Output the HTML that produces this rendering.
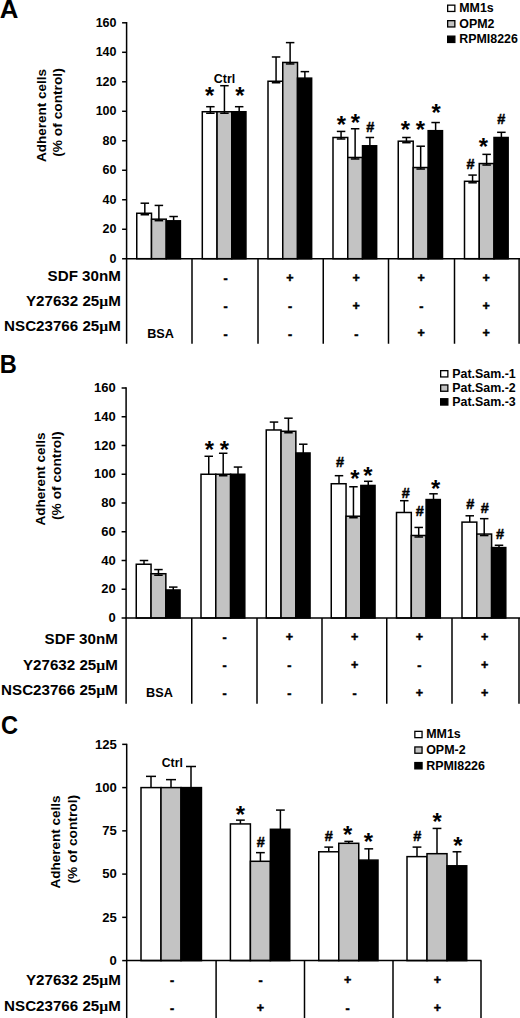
<!DOCTYPE html>
<html><head><meta charset="utf-8"><title>Figure</title>
<style>
html,body{margin:0;padding:0;background:#fff;}
svg{display:block;font-family:"Liberation Sans",sans-serif;font-weight:bold;fill:#000;}
</style></head>
<body>
<svg width="520" height="1018" viewBox="0 0 520 1018">
<rect x="0" y="0" width="520" height="1018" fill="#fff"/>
<line x1="126.60" y1="22.10" x2="126.60" y2="343.75" stroke="#000" stroke-width="1.5"/>
<line x1="122.10" y1="258.75" x2="126.60" y2="258.75" stroke="#000" stroke-width="1.5"/>
<text x="116.50" y="262.65" font-size="12.5" text-anchor="end" >0</text>
<line x1="122.10" y1="229.26" x2="126.60" y2="229.26" stroke="#000" stroke-width="1.5"/>
<text x="116.50" y="233.16" font-size="12.5" text-anchor="end" >20</text>
<line x1="122.10" y1="199.76" x2="126.60" y2="199.76" stroke="#000" stroke-width="1.5"/>
<text x="116.50" y="203.66" font-size="12.5" text-anchor="end" >40</text>
<line x1="122.10" y1="170.27" x2="126.60" y2="170.27" stroke="#000" stroke-width="1.5"/>
<text x="116.50" y="174.17" font-size="12.5" text-anchor="end" >60</text>
<line x1="122.10" y1="140.77" x2="126.60" y2="140.77" stroke="#000" stroke-width="1.5"/>
<text x="116.50" y="144.67" font-size="12.5" text-anchor="end" >80</text>
<line x1="122.10" y1="111.28" x2="126.60" y2="111.28" stroke="#000" stroke-width="1.5"/>
<text x="116.50" y="115.18" font-size="12.5" text-anchor="end" >100</text>
<line x1="122.10" y1="81.79" x2="126.60" y2="81.79" stroke="#000" stroke-width="1.5"/>
<text x="116.50" y="85.69" font-size="12.5" text-anchor="end" >120</text>
<line x1="122.10" y1="52.29" x2="126.60" y2="52.29" stroke="#000" stroke-width="1.5"/>
<text x="116.50" y="56.19" font-size="12.5" text-anchor="end" >140</text>
<line x1="122.10" y1="22.80" x2="126.60" y2="22.80" stroke="#000" stroke-width="1.5"/>
<text x="116.50" y="26.70" font-size="12.5" text-anchor="end" >160</text>
<rect x="136.75" y="213.26" width="14.75" height="45.44" fill="#fff" stroke="#000" stroke-width="1.5"/>
<rect x="151.50" y="219.18" width="14.75" height="39.52" fill="#c3c3c3" stroke="#000" stroke-width="1.5"/>
<rect x="166.25" y="220.81" width="14.15" height="37.89" fill="#000" stroke="#000" stroke-width="1.5"/>
<line x1="144.82" y1="203.20" x2="144.82" y2="214.76" stroke="#000" stroke-width="1.5"/>
<line x1="140.57" y1="203.20" x2="149.07" y2="203.20" stroke="#000" stroke-width="1.5"/>
<line x1="140.57" y1="214.76" x2="149.07" y2="214.76" stroke="#000" stroke-width="1.5"/>
<line x1="158.88" y1="205.42" x2="158.88" y2="220.68" stroke="#000" stroke-width="1.5"/>
<line x1="154.62" y1="205.42" x2="163.12" y2="205.42" stroke="#000" stroke-width="1.5"/>
<line x1="154.62" y1="220.68" x2="163.12" y2="220.68" stroke="#000" stroke-width="1.5"/>
<line x1="173.62" y1="216.52" x2="173.62" y2="220.81" stroke="#000" stroke-width="1.5"/>
<line x1="169.38" y1="216.52" x2="177.88" y2="216.52" stroke="#000" stroke-width="1.5"/>
<rect x="202.30" y="111.74" width="14.75" height="146.96" fill="#fff" stroke="#000" stroke-width="1.5"/>
<rect x="217.05" y="111.74" width="14.75" height="146.96" fill="#c3c3c3" stroke="#000" stroke-width="1.5"/>
<rect x="231.80" y="111.74" width="14.15" height="146.96" fill="#000" stroke="#000" stroke-width="1.5"/>
<line x1="210.38" y1="106.70" x2="210.38" y2="113.24" stroke="#000" stroke-width="1.5"/>
<line x1="206.12" y1="106.70" x2="214.62" y2="106.70" stroke="#000" stroke-width="1.5"/>
<line x1="206.12" y1="113.24" x2="214.62" y2="113.24" stroke="#000" stroke-width="1.5"/>
<line x1="224.43" y1="85.69" x2="224.43" y2="113.24" stroke="#000" stroke-width="1.5"/>
<line x1="220.18" y1="85.69" x2="228.68" y2="85.69" stroke="#000" stroke-width="1.5"/>
<line x1="220.18" y1="113.24" x2="228.68" y2="113.24" stroke="#000" stroke-width="1.5"/>
<line x1="239.18" y1="106.70" x2="239.18" y2="111.74" stroke="#000" stroke-width="1.5"/>
<line x1="234.93" y1="106.70" x2="243.43" y2="106.70" stroke="#000" stroke-width="1.5"/>
<rect x="268.00" y="81.25" width="14.75" height="177.45" fill="#fff" stroke="#000" stroke-width="1.5"/>
<rect x="282.75" y="62.45" width="14.75" height="196.25" fill="#c3c3c3" stroke="#000" stroke-width="1.5"/>
<rect x="297.50" y="78.14" width="14.15" height="180.56" fill="#000" stroke="#000" stroke-width="1.5"/>
<line x1="276.07" y1="56.98" x2="276.07" y2="82.75" stroke="#000" stroke-width="1.5"/>
<line x1="271.82" y1="56.98" x2="280.32" y2="56.98" stroke="#000" stroke-width="1.5"/>
<line x1="271.82" y1="82.75" x2="280.32" y2="82.75" stroke="#000" stroke-width="1.5"/>
<line x1="290.12" y1="42.62" x2="290.12" y2="63.95" stroke="#000" stroke-width="1.5"/>
<line x1="285.88" y1="42.62" x2="294.38" y2="42.62" stroke="#000" stroke-width="1.5"/>
<line x1="285.88" y1="63.95" x2="294.38" y2="63.95" stroke="#000" stroke-width="1.5"/>
<line x1="304.88" y1="71.63" x2="304.88" y2="78.14" stroke="#000" stroke-width="1.5"/>
<line x1="300.62" y1="71.63" x2="309.12" y2="71.63" stroke="#000" stroke-width="1.5"/>
<rect x="333.00" y="137.49" width="14.75" height="121.21" fill="#fff" stroke="#000" stroke-width="1.5"/>
<rect x="347.75" y="157.47" width="14.75" height="101.23" fill="#c3c3c3" stroke="#000" stroke-width="1.5"/>
<rect x="362.50" y="145.78" width="14.15" height="112.92" fill="#000" stroke="#000" stroke-width="1.5"/>
<line x1="341.07" y1="131.42" x2="341.07" y2="138.99" stroke="#000" stroke-width="1.5"/>
<line x1="336.82" y1="131.42" x2="345.32" y2="131.42" stroke="#000" stroke-width="1.5"/>
<line x1="336.82" y1="138.99" x2="345.32" y2="138.99" stroke="#000" stroke-width="1.5"/>
<line x1="355.12" y1="128.76" x2="355.12" y2="158.97" stroke="#000" stroke-width="1.5"/>
<line x1="350.88" y1="128.76" x2="359.38" y2="128.76" stroke="#000" stroke-width="1.5"/>
<line x1="350.88" y1="158.97" x2="359.38" y2="158.97" stroke="#000" stroke-width="1.5"/>
<line x1="369.88" y1="137.49" x2="369.88" y2="145.78" stroke="#000" stroke-width="1.5"/>
<line x1="365.62" y1="137.49" x2="374.12" y2="137.49" stroke="#000" stroke-width="1.5"/>
<rect x="398.25" y="141.19" width="14.95" height="117.51" fill="#fff" stroke="#000" stroke-width="1.5"/>
<rect x="413.20" y="167.53" width="14.95" height="91.17" fill="#c3c3c3" stroke="#000" stroke-width="1.5"/>
<rect x="428.15" y="130.68" width="14.35" height="128.02" fill="#000" stroke="#000" stroke-width="1.5"/>
<line x1="406.43" y1="137.49" x2="406.43" y2="142.69" stroke="#000" stroke-width="1.5"/>
<line x1="402.18" y1="137.49" x2="410.68" y2="137.49" stroke="#000" stroke-width="1.5"/>
<line x1="402.18" y1="142.69" x2="410.68" y2="142.69" stroke="#000" stroke-width="1.5"/>
<line x1="420.67" y1="146.22" x2="420.67" y2="169.03" stroke="#000" stroke-width="1.5"/>
<line x1="416.42" y1="146.22" x2="424.92" y2="146.22" stroke="#000" stroke-width="1.5"/>
<line x1="416.42" y1="169.03" x2="424.92" y2="169.03" stroke="#000" stroke-width="1.5"/>
<line x1="435.62" y1="122.54" x2="435.62" y2="130.68" stroke="#000" stroke-width="1.5"/>
<line x1="431.38" y1="122.54" x2="439.88" y2="122.54" stroke="#000" stroke-width="1.5"/>
<rect x="464.50" y="181.30" width="14.75" height="77.40" fill="#fff" stroke="#000" stroke-width="1.5"/>
<rect x="479.25" y="163.54" width="14.75" height="95.16" fill="#c3c3c3" stroke="#000" stroke-width="1.5"/>
<rect x="494.00" y="137.49" width="14.15" height="121.21" fill="#000" stroke="#000" stroke-width="1.5"/>
<line x1="472.57" y1="175.08" x2="472.57" y2="182.80" stroke="#000" stroke-width="1.5"/>
<line x1="468.32" y1="175.08" x2="476.82" y2="175.08" stroke="#000" stroke-width="1.5"/>
<line x1="468.32" y1="182.80" x2="476.82" y2="182.80" stroke="#000" stroke-width="1.5"/>
<line x1="486.62" y1="154.36" x2="486.62" y2="165.04" stroke="#000" stroke-width="1.5"/>
<line x1="482.38" y1="154.36" x2="490.88" y2="154.36" stroke="#000" stroke-width="1.5"/>
<line x1="482.38" y1="165.04" x2="490.88" y2="165.04" stroke="#000" stroke-width="1.5"/>
<line x1="501.38" y1="132.31" x2="501.38" y2="137.49" stroke="#000" stroke-width="1.5"/>
<line x1="497.12" y1="132.31" x2="505.62" y2="132.31" stroke="#000" stroke-width="1.5"/>
<line x1="125.90" y1="258.70" x2="520.00" y2="258.70" stroke="#000" stroke-width="1.5"/>
<line x1="192.00" y1="258.70" x2="192.00" y2="343.75" stroke="#000" stroke-width="1.5"/>
<line x1="258.00" y1="258.70" x2="258.00" y2="343.75" stroke="#000" stroke-width="1.5"/>
<line x1="323.25" y1="258.70" x2="323.25" y2="343.75" stroke="#000" stroke-width="1.5"/>
<line x1="388.50" y1="258.70" x2="388.50" y2="343.75" stroke="#000" stroke-width="1.5"/>
<line x1="454.50" y1="258.70" x2="454.50" y2="343.75" stroke="#000" stroke-width="1.5"/>
<line x1="519.10" y1="258.70" x2="519.10" y2="343.75" stroke="#000" stroke-width="1.5"/>
<text transform="translate(45.6,115.4) rotate(-90)" font-size="13.6" text-anchor="middle" textLength="93" lengthAdjust="spacingAndGlyphs">Adherent cells</text>
<text transform="translate(61.8,112.5) rotate(-90)" font-size="13.6" text-anchor="middle" textLength="88.5" lengthAdjust="spacingAndGlyphs">(% of control)</text>
<text x="-0.20" y="18.00" font-size="25.8" text-anchor="start" >A</text>
<rect x="447.65" y="5.15" width="7.2" height="6.3" fill="#fff" stroke="#000" stroke-width="1.3"/>
<text x="459.30" y="12.20" font-size="12.4" text-anchor="start" >MM1s</text>
<rect x="447.65" y="20.65" width="7.2" height="6.3" fill="#c3c3c3" stroke="#000" stroke-width="1.3"/>
<text x="459.30" y="27.70" font-size="12.4" text-anchor="start" >OPM2</text>
<rect x="447.65" y="36.15" width="7.2" height="6.3" fill="#000" stroke="#000" stroke-width="1.3"/>
<text x="459.30" y="43.20" font-size="12.4" text-anchor="start" >RPMI8226</text>
<text x="224.50" y="82.50" font-size="12.4" text-anchor="middle" >Ctrl</text>
<text x="209.60" y="104.30" font-size="23.8" text-anchor="middle" >*</text>
<text x="240.00" y="104.30" font-size="23.8" text-anchor="middle" >*</text>
<text x="341.50" y="133.40" font-size="23.8" text-anchor="middle" >*</text>
<text x="355.40" y="131.40" font-size="23.8" text-anchor="middle" >*</text>
<text x="370.40" y="131.54" font-size="14.5" text-anchor="middle" stroke="#000" stroke-width="0.45">#</text>
<text x="405.40" y="137.70" font-size="23.8" text-anchor="middle" >*</text>
<text x="420.40" y="138.30" font-size="23.8" text-anchor="middle" >*</text>
<text x="436.20" y="120.80" font-size="23.8" text-anchor="middle" >*</text>
<text x="470.50" y="169.44" font-size="14.5" text-anchor="middle" stroke="#000" stroke-width="0.45">#</text>
<text x="483.50" y="155.40" font-size="23.8" text-anchor="middle" >*</text>
<text x="501.20" y="124.24" font-size="14.5" text-anchor="middle" stroke="#000" stroke-width="0.45">#</text>
<text x="120.80" y="280.60" font-size="15.15" text-anchor="end" >SDF 30nM</text>
<text x="120.80" y="305.60" font-size="15.15" text-anchor="end" >Y27632 25<tspan font-family="Liberation Serif" font-weight="bold" font-size="15.5">µ</tspan>M</text>
<text x="120.80" y="331.30" font-size="15.15" text-anchor="end" >NSC23766 25<tspan font-family="Liberation Serif" font-weight="bold" font-size="15.5">µ</tspan>M</text>
<text x="160.60" y="338.30" font-size="12.7" text-anchor="middle" >BSA</text>
<text x="225.60" y="283.20" font-size="12.5" text-anchor="middle" stroke="#000" stroke-width="0.5">-</text>
<text x="225.60" y="311.40" font-size="12.5" text-anchor="middle" stroke="#000" stroke-width="0.5">-</text>
<text x="225.60" y="339.00" font-size="12.5" text-anchor="middle" stroke="#000" stroke-width="0.5">-</text>
<text x="290.00" y="281.80" font-size="12.5" text-anchor="middle" stroke="#000" stroke-width="0.5">+</text>
<text x="290.00" y="311.40" font-size="12.5" text-anchor="middle" stroke="#000" stroke-width="0.5">-</text>
<text x="290.00" y="339.00" font-size="12.5" text-anchor="middle" stroke="#000" stroke-width="0.5">-</text>
<text x="356.25" y="281.80" font-size="12.5" text-anchor="middle" stroke="#000" stroke-width="0.5">+</text>
<text x="356.25" y="309.70" font-size="12.5" text-anchor="middle" stroke="#000" stroke-width="0.5">+</text>
<text x="356.25" y="339.00" font-size="12.5" text-anchor="middle" stroke="#000" stroke-width="0.5">-</text>
<text x="421.25" y="281.80" font-size="12.5" text-anchor="middle" stroke="#000" stroke-width="0.5">+</text>
<text x="421.25" y="311.40" font-size="12.5" text-anchor="middle" stroke="#000" stroke-width="0.5">-</text>
<text x="421.25" y="337.40" font-size="12.5" text-anchor="middle" stroke="#000" stroke-width="0.5">+</text>
<text x="486.25" y="281.80" font-size="12.5" text-anchor="middle" stroke="#000" stroke-width="0.5">+</text>
<text x="486.25" y="309.70" font-size="12.5" text-anchor="middle" stroke="#000" stroke-width="0.5">+</text>
<text x="486.25" y="337.40" font-size="12.5" text-anchor="middle" stroke="#000" stroke-width="0.5">+</text>
<line x1="126.10" y1="387.30" x2="126.10" y2="703.75" stroke="#000" stroke-width="1.5"/>
<line x1="121.60" y1="618.00" x2="126.10" y2="618.00" stroke="#000" stroke-width="1.5"/>
<text x="115.70" y="622.20" font-size="13" text-anchor="end" >0</text>
<line x1="121.60" y1="589.25" x2="126.10" y2="589.25" stroke="#000" stroke-width="1.5"/>
<text x="115.70" y="593.45" font-size="13" text-anchor="end" >20</text>
<line x1="121.60" y1="560.50" x2="126.10" y2="560.50" stroke="#000" stroke-width="1.5"/>
<text x="115.70" y="564.70" font-size="13" text-anchor="end" >40</text>
<line x1="121.60" y1="531.75" x2="126.10" y2="531.75" stroke="#000" stroke-width="1.5"/>
<text x="115.70" y="535.95" font-size="13" text-anchor="end" >60</text>
<line x1="121.60" y1="503.00" x2="126.10" y2="503.00" stroke="#000" stroke-width="1.5"/>
<text x="115.70" y="507.20" font-size="13" text-anchor="end" >80</text>
<line x1="121.60" y1="474.25" x2="126.10" y2="474.25" stroke="#000" stroke-width="1.5"/>
<text x="115.70" y="478.45" font-size="13" text-anchor="end" >100</text>
<line x1="121.60" y1="445.50" x2="126.10" y2="445.50" stroke="#000" stroke-width="1.5"/>
<text x="115.70" y="449.70" font-size="13" text-anchor="end" >120</text>
<line x1="121.60" y1="416.75" x2="126.10" y2="416.75" stroke="#000" stroke-width="1.5"/>
<text x="115.70" y="420.95" font-size="13" text-anchor="end" >140</text>
<line x1="121.60" y1="388.00" x2="126.10" y2="388.00" stroke="#000" stroke-width="1.5"/>
<text x="115.70" y="392.20" font-size="13" text-anchor="end" >160</text>
<rect x="136.25" y="564.24" width="14.80" height="53.76" fill="#fff" stroke="#000" stroke-width="1.5"/>
<rect x="151.05" y="573.73" width="14.80" height="44.27" fill="#c3c3c3" stroke="#000" stroke-width="1.5"/>
<rect x="165.85" y="589.97" width="14.20" height="28.03" fill="#000" stroke="#000" stroke-width="1.5"/>
<line x1="144.00" y1="560.50" x2="144.00" y2="564.24" stroke="#000" stroke-width="1.5"/>
<line x1="139.75" y1="560.50" x2="148.25" y2="560.50" stroke="#000" stroke-width="1.5"/>
<line x1="158.45" y1="569.56" x2="158.45" y2="575.23" stroke="#000" stroke-width="1.5"/>
<line x1="154.20" y1="569.56" x2="162.70" y2="569.56" stroke="#000" stroke-width="1.5"/>
<line x1="154.20" y1="575.23" x2="162.70" y2="575.23" stroke="#000" stroke-width="1.5"/>
<line x1="173.25" y1="587.09" x2="173.25" y2="589.97" stroke="#000" stroke-width="1.5"/>
<line x1="169.00" y1="587.09" x2="177.50" y2="587.09" stroke="#000" stroke-width="1.5"/>
<rect x="201.00" y="474.25" width="14.80" height="143.75" fill="#fff" stroke="#000" stroke-width="1.5"/>
<rect x="215.80" y="474.25" width="14.80" height="143.75" fill="#c3c3c3" stroke="#000" stroke-width="1.5"/>
<rect x="230.60" y="474.25" width="14.20" height="143.75" fill="#000" stroke="#000" stroke-width="1.5"/>
<line x1="208.75" y1="456.28" x2="208.75" y2="474.25" stroke="#000" stroke-width="1.5"/>
<line x1="204.50" y1="456.28" x2="213.00" y2="456.28" stroke="#000" stroke-width="1.5"/>
<line x1="223.20" y1="453.26" x2="223.20" y2="475.75" stroke="#000" stroke-width="1.5"/>
<line x1="218.95" y1="453.26" x2="227.45" y2="453.26" stroke="#000" stroke-width="1.5"/>
<line x1="218.95" y1="475.75" x2="227.45" y2="475.75" stroke="#000" stroke-width="1.5"/>
<line x1="238.00" y1="467.06" x2="238.00" y2="474.25" stroke="#000" stroke-width="1.5"/>
<line x1="233.75" y1="467.06" x2="242.25" y2="467.06" stroke="#000" stroke-width="1.5"/>
<rect x="266.25" y="429.98" width="14.80" height="188.02" fill="#fff" stroke="#000" stroke-width="1.5"/>
<rect x="281.05" y="431.27" width="14.80" height="186.73" fill="#c3c3c3" stroke="#000" stroke-width="1.5"/>
<rect x="295.85" y="452.98" width="14.20" height="165.02" fill="#000" stroke="#000" stroke-width="1.5"/>
<line x1="274.00" y1="422.07" x2="274.00" y2="429.98" stroke="#000" stroke-width="1.5"/>
<line x1="269.75" y1="422.07" x2="278.25" y2="422.07" stroke="#000" stroke-width="1.5"/>
<line x1="288.45" y1="418.19" x2="288.45" y2="432.77" stroke="#000" stroke-width="1.5"/>
<line x1="284.20" y1="418.19" x2="292.70" y2="418.19" stroke="#000" stroke-width="1.5"/>
<line x1="284.20" y1="432.77" x2="292.70" y2="432.77" stroke="#000" stroke-width="1.5"/>
<line x1="303.25" y1="444.21" x2="303.25" y2="452.98" stroke="#000" stroke-width="1.5"/>
<line x1="299.00" y1="444.21" x2="307.50" y2="444.21" stroke="#000" stroke-width="1.5"/>
<rect x="331.25" y="483.74" width="14.80" height="134.26" fill="#fff" stroke="#000" stroke-width="1.5"/>
<rect x="346.05" y="516.23" width="14.80" height="101.77" fill="#c3c3c3" stroke="#000" stroke-width="1.5"/>
<rect x="360.85" y="485.46" width="14.20" height="132.54" fill="#000" stroke="#000" stroke-width="1.5"/>
<line x1="339.00" y1="475.69" x2="339.00" y2="483.74" stroke="#000" stroke-width="1.5"/>
<line x1="334.75" y1="475.69" x2="343.25" y2="475.69" stroke="#000" stroke-width="1.5"/>
<line x1="353.45" y1="486.76" x2="353.45" y2="517.73" stroke="#000" stroke-width="1.5"/>
<line x1="349.20" y1="486.76" x2="357.70" y2="486.76" stroke="#000" stroke-width="1.5"/>
<line x1="349.20" y1="517.73" x2="357.70" y2="517.73" stroke="#000" stroke-width="1.5"/>
<line x1="368.25" y1="481.29" x2="368.25" y2="485.46" stroke="#000" stroke-width="1.5"/>
<line x1="364.00" y1="481.29" x2="372.50" y2="481.29" stroke="#000" stroke-width="1.5"/>
<rect x="396.50" y="512.49" width="14.80" height="105.51" fill="#fff" stroke="#000" stroke-width="1.5"/>
<rect x="411.30" y="535.49" width="14.80" height="82.51" fill="#c3c3c3" stroke="#000" stroke-width="1.5"/>
<rect x="426.10" y="499.55" width="14.20" height="118.45" fill="#000" stroke="#000" stroke-width="1.5"/>
<line x1="404.25" y1="500.70" x2="404.25" y2="512.49" stroke="#000" stroke-width="1.5"/>
<line x1="400.00" y1="500.70" x2="408.50" y2="500.70" stroke="#000" stroke-width="1.5"/>
<line x1="418.70" y1="527.44" x2="418.70" y2="536.99" stroke="#000" stroke-width="1.5"/>
<line x1="414.45" y1="527.44" x2="422.95" y2="527.44" stroke="#000" stroke-width="1.5"/>
<line x1="414.45" y1="536.99" x2="422.95" y2="536.99" stroke="#000" stroke-width="1.5"/>
<line x1="433.50" y1="493.80" x2="433.50" y2="499.55" stroke="#000" stroke-width="1.5"/>
<line x1="429.25" y1="493.80" x2="437.75" y2="493.80" stroke="#000" stroke-width="1.5"/>
<rect x="462.00" y="522.12" width="14.80" height="95.88" fill="#fff" stroke="#000" stroke-width="1.5"/>
<rect x="476.80" y="534.05" width="14.80" height="83.95" fill="#c3c3c3" stroke="#000" stroke-width="1.5"/>
<rect x="491.60" y="547.56" width="14.20" height="70.44" fill="#000" stroke="#000" stroke-width="1.5"/>
<line x1="469.75" y1="515.79" x2="469.75" y2="522.12" stroke="#000" stroke-width="1.5"/>
<line x1="465.50" y1="515.79" x2="474.00" y2="515.79" stroke="#000" stroke-width="1.5"/>
<line x1="484.20" y1="518.67" x2="484.20" y2="535.55" stroke="#000" stroke-width="1.5"/>
<line x1="479.95" y1="518.67" x2="488.45" y2="518.67" stroke="#000" stroke-width="1.5"/>
<line x1="479.95" y1="535.55" x2="488.45" y2="535.55" stroke="#000" stroke-width="1.5"/>
<line x1="499.00" y1="545.26" x2="499.00" y2="547.56" stroke="#000" stroke-width="1.5"/>
<line x1="494.75" y1="545.26" x2="503.25" y2="545.26" stroke="#000" stroke-width="1.5"/>
<line x1="125.40" y1="618.00" x2="520.00" y2="618.00" stroke="#000" stroke-width="1.5"/>
<line x1="191.75" y1="618.00" x2="191.75" y2="703.75" stroke="#000" stroke-width="1.5"/>
<line x1="257.00" y1="618.00" x2="257.00" y2="703.75" stroke="#000" stroke-width="1.5"/>
<line x1="322.00" y1="618.00" x2="322.00" y2="703.75" stroke="#000" stroke-width="1.5"/>
<line x1="386.75" y1="618.00" x2="386.75" y2="703.75" stroke="#000" stroke-width="1.5"/>
<line x1="452.00" y1="618.00" x2="452.00" y2="703.75" stroke="#000" stroke-width="1.5"/>
<line x1="519.00" y1="618.00" x2="519.00" y2="703.75" stroke="#000" stroke-width="1.5"/>
<text transform="translate(44.8,479) rotate(-90)" font-size="13.6" text-anchor="middle" textLength="93" lengthAdjust="spacingAndGlyphs">Adherent cells</text>
<text transform="translate(61.2,475.7) rotate(-90)" font-size="13.6" text-anchor="middle" textLength="88.5" lengthAdjust="spacingAndGlyphs">(% of control)</text>
<text transform="translate(-0.3,373.2) scale(0.945,1.03)" font-size="25">B</text>
<rect x="440.65" y="370.65" width="7.2" height="6.3" fill="#fff" stroke="#000" stroke-width="1.3"/>
<text x="452.30" y="377.70" font-size="12.4" text-anchor="start" >Pat.Sam.-1</text>
<rect x="440.65" y="384.95" width="7.2" height="6.3" fill="#c3c3c3" stroke="#000" stroke-width="1.3"/>
<text x="452.30" y="392.00" font-size="12.4" text-anchor="start" >Pat.Sam.-2</text>
<rect x="440.65" y="398.75" width="7.2" height="6.3" fill="#000" stroke="#000" stroke-width="1.3"/>
<text x="452.30" y="405.80" font-size="12.4" text-anchor="start" >Pat.Sam.-3</text>
<text x="209.40" y="458.30" font-size="23.8" text-anchor="middle" >*</text>
<text x="224.40" y="458.30" font-size="23.8" text-anchor="middle" >*</text>
<text x="340.00" y="467.34" font-size="14.5" text-anchor="middle" stroke="#000" stroke-width="0.45">#</text>
<text x="354.80" y="487.10" font-size="23.8" text-anchor="middle" >*</text>
<text x="367.80" y="483.60" font-size="23.8" text-anchor="middle" >*</text>
<text x="405.70" y="497.94" font-size="14.5" text-anchor="middle" stroke="#000" stroke-width="0.45">#</text>
<text x="419.80" y="516.44" font-size="14.5" text-anchor="middle" stroke="#000" stroke-width="0.45">#</text>
<text x="435.60" y="496.50" font-size="23.8" text-anchor="middle" >*</text>
<text x="470.30" y="508.74" font-size="14.5" text-anchor="middle" stroke="#000" stroke-width="0.45">#</text>
<text x="484.90" y="513.24" font-size="14.5" text-anchor="middle" stroke="#000" stroke-width="0.45">#</text>
<text x="500.10" y="538.54" font-size="14.5" text-anchor="middle" stroke="#000" stroke-width="0.45">#</text>
<text x="117.80" y="643.70" font-size="15.15" text-anchor="end" >SDF 30nM</text>
<text x="117.80" y="670.00" font-size="15.15" text-anchor="end" >Y27632 25<tspan font-family="Liberation Serif" font-weight="bold" font-size="15.5">µ</tspan>M</text>
<text x="117.80" y="695.00" font-size="15.15" text-anchor="end" >NSC23766 25<tspan font-family="Liberation Serif" font-weight="bold" font-size="15.5">µ</tspan>M</text>
<text x="159.50" y="697.40" font-size="12.7" text-anchor="middle" >BSA</text>
<text x="224.60" y="642.00" font-size="12.5" text-anchor="middle" stroke="#000" stroke-width="0.5">-</text>
<text x="224.60" y="670.10" font-size="12.5" text-anchor="middle" stroke="#000" stroke-width="0.5">-</text>
<text x="224.60" y="697.80" font-size="12.5" text-anchor="middle" stroke="#000" stroke-width="0.5">-</text>
<text x="289.30" y="641.30" font-size="12.5" text-anchor="middle" stroke="#000" stroke-width="0.5">+</text>
<text x="289.30" y="670.10" font-size="12.5" text-anchor="middle" stroke="#000" stroke-width="0.5">-</text>
<text x="289.30" y="697.80" font-size="12.5" text-anchor="middle" stroke="#000" stroke-width="0.5">-</text>
<text x="354.60" y="641.30" font-size="12.5" text-anchor="middle" stroke="#000" stroke-width="0.5">+</text>
<text x="354.60" y="669.20" font-size="12.5" text-anchor="middle" stroke="#000" stroke-width="0.5">+</text>
<text x="354.60" y="697.80" font-size="12.5" text-anchor="middle" stroke="#000" stroke-width="0.5">-</text>
<text x="419.40" y="641.30" font-size="12.5" text-anchor="middle" stroke="#000" stroke-width="0.5">+</text>
<text x="419.40" y="670.10" font-size="12.5" text-anchor="middle" stroke="#000" stroke-width="0.5">-</text>
<text x="419.40" y="697.20" font-size="12.5" text-anchor="middle" stroke="#000" stroke-width="0.5">+</text>
<text x="484.60" y="641.30" font-size="12.5" text-anchor="middle" stroke="#000" stroke-width="0.5">+</text>
<text x="484.60" y="669.20" font-size="12.5" text-anchor="middle" stroke="#000" stroke-width="0.5">+</text>
<text x="484.60" y="697.20" font-size="12.5" text-anchor="middle" stroke="#000" stroke-width="0.5">+</text>
<line x1="126.70" y1="743.65" x2="126.70" y2="1019.00" stroke="#000" stroke-width="1.5"/>
<line x1="122.20" y1="960.60" x2="126.70" y2="960.60" stroke="#000" stroke-width="1.5"/>
<text x="116.90" y="964.90" font-size="13.1" text-anchor="end" >0</text>
<line x1="122.20" y1="917.35" x2="126.70" y2="917.35" stroke="#000" stroke-width="1.5"/>
<text x="116.90" y="921.65" font-size="13.1" text-anchor="end" >25</text>
<line x1="122.20" y1="874.10" x2="126.70" y2="874.10" stroke="#000" stroke-width="1.5"/>
<text x="116.90" y="878.40" font-size="13.1" text-anchor="end" >50</text>
<line x1="122.20" y1="830.85" x2="126.70" y2="830.85" stroke="#000" stroke-width="1.5"/>
<text x="116.90" y="835.15" font-size="13.1" text-anchor="end" >75</text>
<line x1="122.20" y1="787.60" x2="126.70" y2="787.60" stroke="#000" stroke-width="1.5"/>
<text x="116.90" y="791.90" font-size="13.1" text-anchor="end" >100</text>
<line x1="122.20" y1="744.35" x2="126.70" y2="744.35" stroke="#000" stroke-width="1.5"/>
<text x="116.90" y="748.65" font-size="13.1" text-anchor="end" >125</text>
<rect x="141.00" y="787.60" width="20.00" height="173.00" fill="#fff" stroke="#000" stroke-width="1.5"/>
<rect x="161.00" y="787.60" width="20.00" height="173.00" fill="#c3c3c3" stroke="#000" stroke-width="1.5"/>
<rect x="181.00" y="787.60" width="20.45" height="173.00" fill="#000" stroke="#000" stroke-width="1.5"/>
<line x1="151.00" y1="776.36" x2="151.00" y2="787.60" stroke="#000" stroke-width="1.5"/>
<line x1="146.00" y1="776.36" x2="156.00" y2="776.36" stroke="#000" stroke-width="1.5"/>
<line x1="171.00" y1="779.64" x2="171.00" y2="787.60" stroke="#000" stroke-width="1.5"/>
<line x1="166.00" y1="779.64" x2="176.00" y2="779.64" stroke="#000" stroke-width="1.5"/>
<line x1="191.00" y1="766.49" x2="191.00" y2="787.60" stroke="#000" stroke-width="1.5"/>
<line x1="186.00" y1="766.49" x2="196.00" y2="766.49" stroke="#000" stroke-width="1.5"/>
<rect x="230.40" y="823.93" width="20.00" height="136.67" fill="#fff" stroke="#000" stroke-width="1.5"/>
<rect x="250.40" y="861.30" width="20.00" height="99.30" fill="#c3c3c3" stroke="#000" stroke-width="1.5"/>
<rect x="270.40" y="829.29" width="19.35" height="131.31" fill="#000" stroke="#000" stroke-width="1.5"/>
<line x1="240.40" y1="820.12" x2="240.40" y2="823.93" stroke="#000" stroke-width="1.5"/>
<line x1="236.00" y1="820.12" x2="244.80" y2="820.12" stroke="#000" stroke-width="1.5"/>
<line x1="260.40" y1="852.65" x2="260.40" y2="861.30" stroke="#000" stroke-width="1.5"/>
<line x1="256.00" y1="852.65" x2="264.80" y2="852.65" stroke="#000" stroke-width="1.5"/>
<line x1="280.40" y1="810.09" x2="280.40" y2="829.29" stroke="#000" stroke-width="1.5"/>
<line x1="276.00" y1="810.09" x2="284.80" y2="810.09" stroke="#000" stroke-width="1.5"/>
<rect x="318.75" y="851.78" width="20.00" height="108.82" fill="#fff" stroke="#000" stroke-width="1.5"/>
<rect x="338.75" y="843.31" width="20.00" height="117.29" fill="#c3c3c3" stroke="#000" stroke-width="1.5"/>
<rect x="358.75" y="860.09" width="19.25" height="100.51" fill="#000" stroke="#000" stroke-width="1.5"/>
<line x1="328.75" y1="847.11" x2="328.75" y2="851.78" stroke="#000" stroke-width="1.5"/>
<line x1="324.35" y1="847.11" x2="333.15" y2="847.11" stroke="#000" stroke-width="1.5"/>
<line x1="348.75" y1="841.40" x2="348.75" y2="843.31" stroke="#000" stroke-width="1.5"/>
<line x1="344.35" y1="841.40" x2="353.15" y2="841.40" stroke="#000" stroke-width="1.5"/>
<line x1="368.75" y1="848.84" x2="368.75" y2="860.09" stroke="#000" stroke-width="1.5"/>
<line x1="364.35" y1="848.84" x2="373.15" y2="848.84" stroke="#000" stroke-width="1.5"/>
<rect x="407.00" y="856.63" width="20.00" height="103.97" fill="#fff" stroke="#000" stroke-width="1.5"/>
<rect x="427.00" y="853.69" width="20.00" height="106.91" fill="#c3c3c3" stroke="#000" stroke-width="1.5"/>
<rect x="447.00" y="865.80" width="19.75" height="94.80" fill="#000" stroke="#000" stroke-width="1.5"/>
<line x1="417.00" y1="847.11" x2="417.00" y2="856.63" stroke="#000" stroke-width="1.5"/>
<line x1="412.60" y1="847.11" x2="421.40" y2="847.11" stroke="#000" stroke-width="1.5"/>
<line x1="437.00" y1="828.43" x2="437.00" y2="853.69" stroke="#000" stroke-width="1.5"/>
<line x1="432.60" y1="828.43" x2="441.40" y2="828.43" stroke="#000" stroke-width="1.5"/>
<line x1="457.00" y1="851.78" x2="457.00" y2="865.80" stroke="#000" stroke-width="1.5"/>
<line x1="452.60" y1="851.78" x2="461.40" y2="851.78" stroke="#000" stroke-width="1.5"/>
<line x1="126.00" y1="960.60" x2="481.50" y2="960.60" stroke="#000" stroke-width="1.5"/>
<line x1="216.10" y1="960.60" x2="216.10" y2="1019.00" stroke="#000" stroke-width="1.5"/>
<line x1="304.50" y1="960.60" x2="304.50" y2="1019.00" stroke="#000" stroke-width="1.5"/>
<line x1="393.00" y1="960.60" x2="393.00" y2="1019.00" stroke="#000" stroke-width="1.5"/>
<line x1="481.00" y1="960.60" x2="481.00" y2="1019.00" stroke="#000" stroke-width="1.5"/>
<text transform="translate(60.0,842) rotate(-90)" font-size="13.6" text-anchor="middle" textLength="93" lengthAdjust="spacingAndGlyphs">Adherent cells</text>
<text transform="translate(76.8,839.2) rotate(-90)" font-size="13.6" text-anchor="middle" textLength="88.5" lengthAdjust="spacingAndGlyphs">(% of control)</text>
<text transform="translate(0.9,734.4) scale(0.945,1.04)" font-size="25">C</text>
<rect x="414.85" y="731.35" width="7.2" height="6.3" fill="#fff" stroke="#000" stroke-width="1.3"/>
<text x="426.20" y="738.40" font-size="12.45" text-anchor="start" >MM1s</text>
<rect x="414.85" y="746.95" width="7.2" height="6.3" fill="#c3c3c3" stroke="#000" stroke-width="1.3"/>
<text x="426.20" y="754.00" font-size="12.45" text-anchor="start" >OPM-2</text>
<rect x="414.85" y="762.55" width="7.2" height="6.3" fill="#000" stroke="#000" stroke-width="1.3"/>
<text x="426.20" y="769.60" font-size="12.45" text-anchor="start" >RPMI8226</text>
<text x="172.30" y="766.80" font-size="12.2" text-anchor="middle" >Ctrl</text>
<text x="240.40" y="822.80" font-size="23.8" text-anchor="middle" >*</text>
<text x="260.70" y="846.84" font-size="14.5" text-anchor="middle" stroke="#000" stroke-width="0.45">#</text>
<text x="328.80" y="840.54" font-size="14.5" text-anchor="middle" stroke="#000" stroke-width="0.45">#</text>
<text x="347.70" y="842.70" font-size="23.8" text-anchor="middle" >*</text>
<text x="368.40" y="849.70" font-size="23.8" text-anchor="middle" >*</text>
<text x="417.30" y="841.04" font-size="14.5" text-anchor="middle" stroke="#000" stroke-width="0.45">#</text>
<text x="437.10" y="829.60" font-size="23.8" text-anchor="middle" >*</text>
<text x="457.90" y="854.10" font-size="23.8" text-anchor="middle" >*</text>
<text x="120.80" y="985.00" font-size="15.15" text-anchor="end" >Y27632 25<tspan font-family="Liberation Serif" font-weight="bold" font-size="15.5">µ</tspan>M</text>
<text x="120.80" y="1010.50" font-size="15.15" text-anchor="end" >NSC23766 25<tspan font-family="Liberation Serif" font-weight="bold" font-size="15.5">µ</tspan>M</text>
<text x="172.00" y="984.80" font-size="12.5" text-anchor="middle" stroke="#000" stroke-width="0.5">-</text>
<text x="172.00" y="1013.00" font-size="12.5" text-anchor="middle" stroke="#000" stroke-width="0.5">-</text>
<text x="260.50" y="984.80" font-size="12.5" text-anchor="middle" stroke="#000" stroke-width="0.5">-</text>
<text x="260.50" y="1012.00" font-size="12.5" text-anchor="middle" stroke="#000" stroke-width="0.5">+</text>
<text x="347.70" y="983.70" font-size="12.5" text-anchor="middle" stroke="#000" stroke-width="0.5">+</text>
<text x="347.70" y="1013.00" font-size="12.5" text-anchor="middle" stroke="#000" stroke-width="0.5">-</text>
<text x="437.30" y="983.70" font-size="12.5" text-anchor="middle" stroke="#000" stroke-width="0.5">+</text>
<text x="437.30" y="1012.00" font-size="12.5" text-anchor="middle" stroke="#000" stroke-width="0.5">+</text>
</svg>
</body></html>
